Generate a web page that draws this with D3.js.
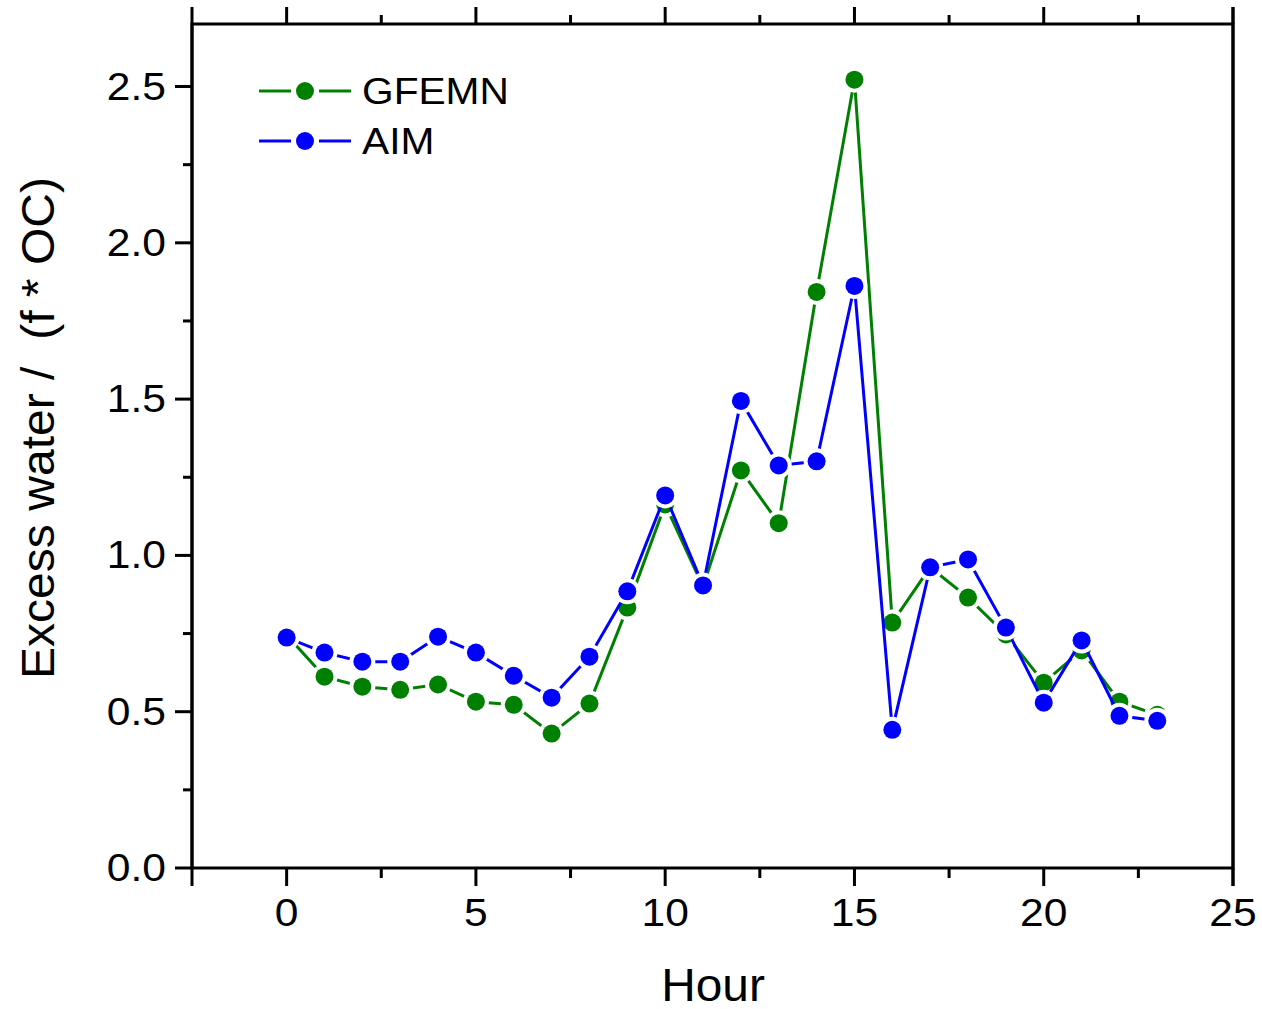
<!DOCTYPE html>
<html>
<head>
<meta charset="utf-8">
<script src="https://cdn.jsdelivr.net/npm/d3@7"></script>
<style>
  body { margin: 0; background: #fff; }
  text { font-family: "Liberation Sans", Arial, sans-serif; fill: #000; white-space: pre; }
</style>
</head>
<body>
<svg id="chart" width="1262" height="1009"></svg>
<script>
(function() {
  'use strict';

  // data
  const hours = d3.range(0, 24);
  const gfemn = [0.745, 0.612, 0.580, 0.570, 0.587, 0.532, 0.522, 0.430, 0.526, 0.833, 1.163, 0.900,
                 1.272, 1.103, 1.843, 2.522, 0.785, 0.962, 0.865, 0.747, 0.593, 0.696, 0.532, 0.490];
  const aim   = [0.737, 0.689, 0.660, 0.660, 0.740, 0.689, 0.615, 0.545, 0.676, 0.885, 1.192, 0.904,
                 1.494, 1.288, 1.301, 1.862, 0.442, 0.962, 0.987, 0.769, 0.529, 0.728, 0.487, 0.471];
  const xTicks = [0, 5, 10, 15, 20, 25];
  const yTicks = [0, 0.5, 1.0, 1.5, 2.0, 2.5];

  const series = [
    { name: 'GFEMN', values: gfemn, color: '#008000' },
    { name: 'AIM',   values: aim,   color: '#0000ff' }
  ];

  const svg = d3.select('#chart');
  const left = 192, right = 1233, top = 24, bottom = 868;

  const x = d3.scaleLinear().domain([-2.5, 25]).range([left, right]);
  const y = d3.scaleLinear().domain([0, 2.7]).range([bottom, top]);

  // the reference font is a bit wider than Liberation Sans, so stretch it
  function wideText(sel, px, py, sx) {
    return sel.attr('transform', (d, i) => 'translate(' + px(d, i) + ',' + py(d, i) + ') scale(' + sx + ',1)');
  }

  // frame
  const frame = svg.append('g').attr('stroke', '#000').attr('stroke-width', 3).attr('fill', 'none');
  frame.append('rect').attr('x', left).attr('y', top).attr('width', right - left).attr('height', bottom - top);

  // bottom axis ticks (outward)
  const xMinor = d3.range(-2.5, 25.01, 2.5).filter(v => !xTicks.includes(v) && v > -2.5);
  frame.selectAll('.xmaj').data(xTicks).join('line')
    .attr('x1', d => x(d)).attr('x2', d => x(d)).attr('y1', bottom).attr('y2', bottom + 18);
  frame.selectAll('.xmin').data(xMinor).join('line')
    .attr('x1', d => x(d)).attr('x2', d => x(d)).attr('y1', bottom).attr('y2', bottom + 10);
  // top axis ticks (outward)
  frame.selectAll('.xmajt').data(xTicks).join('line')
    .attr('x1', d => x(d)).attr('x2', d => x(d)).attr('y1', top).attr('y2', top - 17);
  frame.selectAll('.xmint').data(xMinor).join('line')
    .attr('x1', d => x(d)).attr('x2', d => x(d)).attr('y1', top).attr('y2', top - 9);
  // side lines run past the corners like the reference
  frame.append('line').attr('x1', left).attr('x2', left).attr('y1', top - 17).attr('y2', bottom + 18);
  frame.append('line').attr('x1', right).attr('x2', right).attr('y1', top - 17).attr('y2', bottom + 18);

  // left axis ticks
  const yMinor = d3.range(0.25, 2.7, 0.5);
  frame.selectAll('.ymaj').data(yTicks).join('line')
    .attr('x1', left).attr('x2', left - 17).attr('y1', d => y(d)).attr('y2', d => y(d));
  frame.selectAll('.ymin').data(yMinor).join('line')
    .attr('x1', left).attr('x2', left - 9).attr('y1', d => y(d)).attr('y2', d => y(d));

  // tick labels
  wideText(svg.append('g').selectAll('text').data(xTicks).join('text'),
      d => x(d), () => bottom + 58, 1.12)
    .attr('text-anchor', 'middle').attr('font-size', 38)
    .text(d => d);
  wideText(svg.append('g').selectAll('text').data(yTicks).join('text'),
      () => left - 26, d => y(d) + 13, 1.12)
    .attr('text-anchor', 'end').attr('font-size', 38)
    .text(d => d.toFixed(1));

  // axis titles
  svg.append('text')
    .attr('transform', 'translate(713,1001) scale(1.04,1)')
    .attr('text-anchor', 'middle').attr('font-size', 46).text('Hour');
  svg.append('text')
    .attr('transform', 'translate(54,428) rotate(-90) scale(1.045,1)')
    .attr('text-anchor', 'middle').attr('font-size', 46).text('Excess water /  (f * OC)');

  // series: line, white halo, marker
  const line = d3.line().x((d, i) => x(hours[i])).y(d => y(d));
  const r = 9;
  series.forEach(s => {
    const g = svg.append('g');
    g.append('path').datum(s.values).attr('d', line)
      .attr('fill', 'none').attr('stroke', s.color).attr('stroke-width', 3);
    g.selectAll('.halo').data(s.values).join('circle')
      .attr('cx', (d, i) => x(hours[i])).attr('cy', d => y(d)).attr('r', r + 4).attr('fill', '#fff');
    g.selectAll('.dot').data(s.values).join('circle')
      .attr('cx', (d, i) => x(hours[i])).attr('cy', d => y(d)).attr('r', r).attr('fill', s.color);
  });

  // legend
  const legend = svg.append('g');
  series.forEach((s, i) => {
    const ly = 91 + i * 50;
    legend.append('line').attr('x1', 259).attr('x2', 291).attr('y1', ly).attr('y2', ly)
      .attr('stroke', s.color).attr('stroke-width', 3);
    legend.append('line').attr('x1', 319).attr('x2', 351).attr('y1', ly).attr('y2', ly)
      .attr('stroke', s.color).attr('stroke-width', 3);
    legend.append('circle').attr('cx', 305).attr('cy', ly).attr('r', r).attr('fill', s.color);
    legend.append('text')
      .attr('transform', 'translate(362,' + (ly + 13) + ') scale(1.1,1)')
      .attr('font-size', 37).text(s.name);
  });
})();
</script>
</body>
</html>
